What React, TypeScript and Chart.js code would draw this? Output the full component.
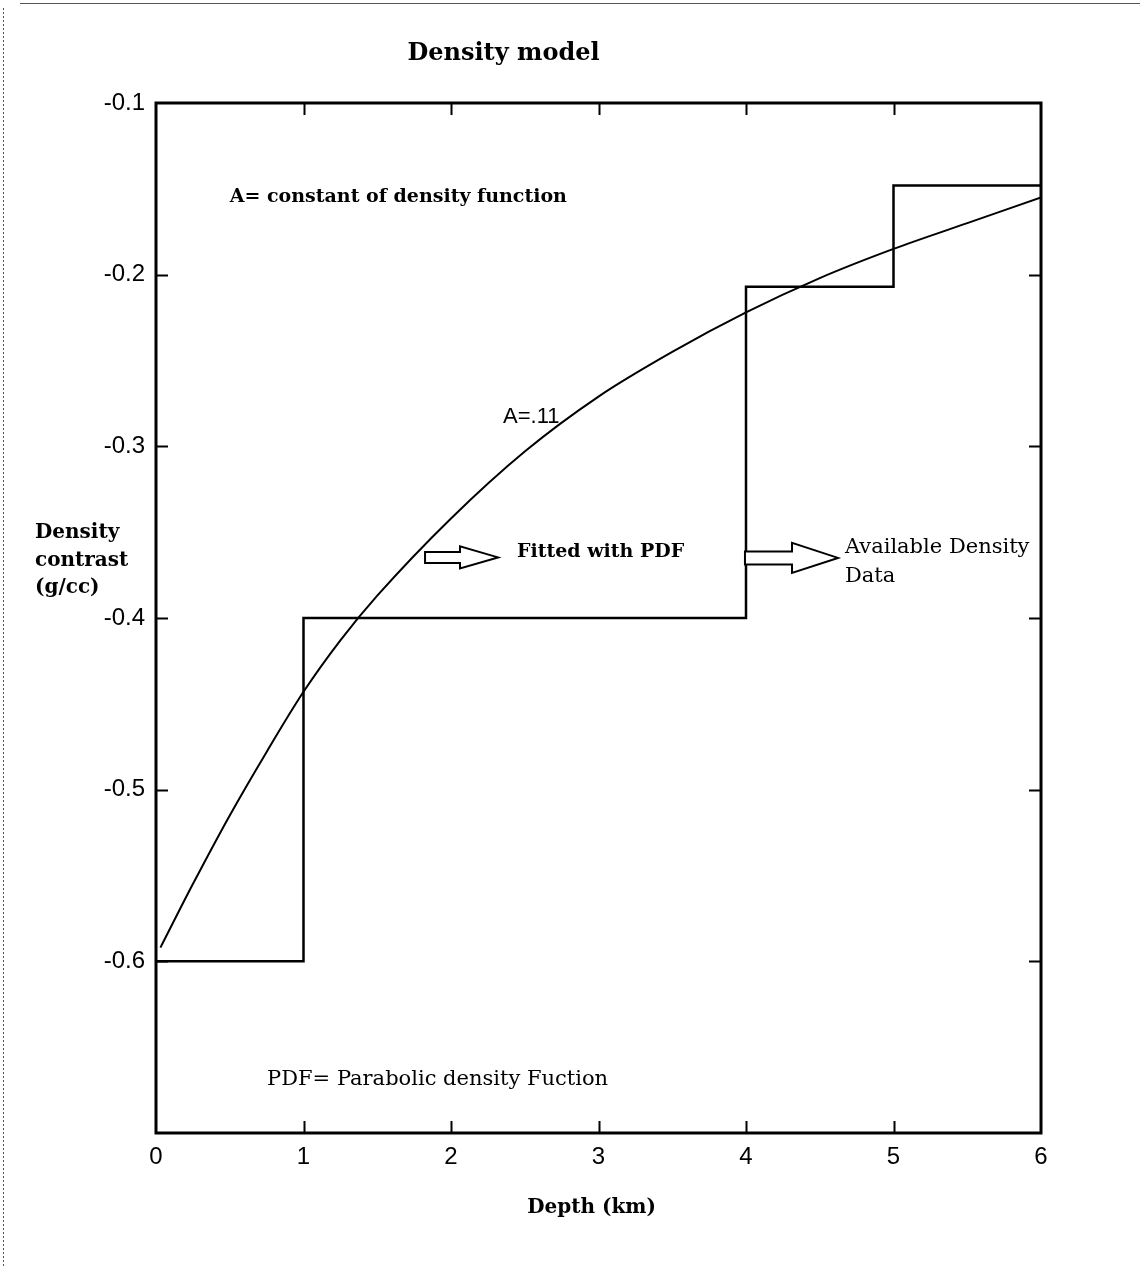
import React, { useEffect, useRef } from "react";
import { Chart, registerables } from "chart.js";

Chart.register(...registerables);

// ---- data ----
const stepDepths = [0, 1, 1, 4, 4, 5, 5, 6];
const stepValues = [-0.6, -0.6, -0.4, -0.4, -0.207, -0.207, -0.148, -0.148];

const curveDepths = [0.03, 0.25, 0.5, 0.75, 1.0, 1.25, 1.5, 2.0, 2.5, 3.0, 3.5, 4.0, 4.5, 5.0, 5.5, 6.0];
const curveValues = [-0.592, -0.555, -0.515, -0.478, -0.443, -0.413, -0.387, -0.342, -0.303, -0.271, -0.245, -0.222, -0.202, -0.185, -0.17, -0.155];

const xTickValues = [0, 1, 2, 3, 4, 5, 6];
const yTickValues = [-0.1, -0.2, -0.3, -0.4, -0.5, -0.6];
const xMin = 0;
const xMax = 6;
const yMin = -0.7;
const yMax = -0.1;

const titleText = "Density model";
const xTitle = "Depth (km)";
const yTitleLines = ["Density", "contrast", "(g/cc)"];

const SERIF = "'DejaVu Serif', 'Liberation Serif', serif";
const SANS = "'Liberation Sans', Arial, sans-serif";

// in-plot notes, anchored in data coordinates (depth, value) = left / baseline
const notes = [
  { text: "A= constant of density function", x: 0.5, y: -0.1577, font: `bold 19px ${SERIF}` },
  { text: "A=.11", x: 2.353, y: -0.2864, font: `22px ${SANS}` },
  { text: "Fitted with PDF", x: 2.447, y: -0.3644, font: `bold 19px ${SERIF}` },
  { text: "Available Density", x: 4.671, y: -0.3621, font: `21px ${SERIF}` },
  { text: "Data", x: 4.671, y: -0.379, font: `21px ${SERIF}` },
  { text: "PDF= Parabolic density Fuction", x: 0.753, y: -0.6719, font: `21px ${SERIF}` },
];

// hollow block arrows: start depth, head-start depth, tip depth, centre value
const arrows = [
  { x0: 1.824, xh: 2.061, x1: 2.319, y: -0.3647, shaft: 5.5, head: 11 },
  { x0: 3.993, xh: 4.312, x1: 4.624, y: -0.365, shaft: 6.5, head: 15 },
];

const decorPlugin = {
  id: "decor",
  beforeDraw(chart: any) {
    const ctx = chart.ctx;
    ctx.save();
    ctx.fillStyle = "#ffffff";
    ctx.fillRect(0, 0, chart.width, chart.height);
    ctx.restore();
  },
  afterDatasetsDraw(chart: any) {
    const ctx = chart.ctx;
    const { left, right, top, bottom } = chart.chartArea;
    const xs = chart.scales.x;
    const ys = chart.scales.y;
    ctx.save();

    // frame
    ctx.strokeStyle = "#000";
    ctx.lineWidth = 3;
    ctx.strokeRect(left, top, right - left, bottom - top);

    // inward ticks
    ctx.lineWidth = 2;
    const tl = 12;
    xTickValues.forEach((v) => {
      if (v === xMin || v === xMax) return;
      const px = Math.round(xs.getPixelForValue(v)) + 0.5;
      ctx.beginPath();
      ctx.moveTo(px, bottom);
      ctx.lineTo(px, bottom - tl);
      ctx.moveTo(px, top);
      ctx.lineTo(px, top + tl);
      ctx.stroke();
    });
    yTickValues.forEach((v) => {
      if (v === yMax || v === yMin) return;
      const py = Math.round(ys.getPixelForValue(v)) + 0.5;
      ctx.beginPath();
      ctx.moveTo(left, py);
      ctx.lineTo(left + tl, py);
      ctx.moveTo(right, py);
      ctx.lineTo(right - tl, py);
      ctx.stroke();
    });

    // notes
    ctx.fillStyle = "#000";
    ctx.textBaseline = "alphabetic";
    ctx.textAlign = "left";
    notes.forEach((n) => {
      ctx.font = n.font;
      ctx.fillText(n.text, xs.getPixelForValue(n.x), ys.getPixelForValue(n.y));
    });

    // arrows
    ctx.lineWidth = 2;
    ctx.fillStyle = "#fff";
    arrows.forEach((a) => {
      const x0 = xs.getPixelForValue(a.x0);
      const xh = xs.getPixelForValue(a.xh);
      const x1 = xs.getPixelForValue(a.x1);
      const cy = ys.getPixelForValue(a.y);
      ctx.beginPath();
      ctx.moveTo(x0, cy - a.shaft);
      ctx.lineTo(xh, cy - a.shaft);
      ctx.lineTo(xh, cy - a.head);
      ctx.lineTo(x1, cy);
      ctx.lineTo(xh, cy + a.head);
      ctx.lineTo(xh, cy + a.shaft);
      ctx.lineTo(x0, cy + a.shaft);
      ctx.closePath();
      ctx.fill();
      ctx.stroke();
    });

    // title
    ctx.fillStyle = "#000";
    ctx.font = `bold 24px ${SERIF}`;
    ctx.textAlign = "center";
    ctx.fillText(titleText, (left + right) / 2 - 95, 60);

    // x title
    ctx.font = `bold 20px ${SERIF}`;
    ctx.fillText(xTitle, (left + right) / 2 - 7, 1213);

    // y title
    ctx.textAlign = "left";
    const bl = [538, 566, 593];
    yTitleLines.forEach((t, i) => ctx.fillText(t, 35, bl[i]));

    // page border
    ctx.strokeStyle = "#555";
    ctx.lineWidth = 1;
    ctx.beginPath();
    ctx.moveTo(20, 3.5);
    ctx.lineTo(chart.width, 3.5);
    ctx.stroke();
    ctx.setLineDash([2, 2]);
    ctx.beginPath();
    ctx.moveTo(3.5, 8);
    ctx.lineTo(3.5, chart.height);
    ctx.stroke();
    ctx.restore();
  },
};

export default function App() {
  const ref = useRef<HTMLCanvasElement | null>(null);

  useEffect(() => {
    if (!ref.current) return;
    const chart = new Chart(ref.current, {
      type: "line",
      data: {
        datasets: [
          {
            label: "Available Density Data",
            data: stepDepths.map((x, i) => ({ x, y: stepValues[i] })),
            borderColor: "#000",
            borderWidth: 2.5,
            pointRadius: 0,
            fill: false,
            tension: 0,
          },
          {
            label: "Fitted with PDF",
            data: curveDepths.map((x, i) => ({ x, y: curveValues[i] })),
            borderColor: "#000",
            borderWidth: 2,
            pointRadius: 0,
            fill: false,
            cubicInterpolationMode: "monotone",
          },
        ],
      },
      options: {
        animation: false,
        responsive: false,
        devicePixelRatio: 1,
        layout: { padding: { left: 0, top: 103, right: 99, bottom: 0 } },
        plugins: {
          legend: { display: false },
          tooltip: { enabled: false },
          title: { display: false },
        },
        scales: {
          x: {
            type: "linear",
            position: "bottom",
            min: xMin,
            max: xMax,
            grid: { display: false, drawTicks: false, tickLength: 0 },
            border: { display: false },
            afterBuildTicks: (s: any) => {
              s.ticks = xTickValues.map((v) => ({ value: v }));
            },
            afterFit: (s: any) => {
              s.height = 135;
            },
            ticks: {
              color: "#000",
              padding: 10,
              maxRotation: 0,
              font: { family: "'Liberation Sans', Arial, sans-serif", size: 24 },
              callback: (v: any) => String(v),
            },
          },
          y: {
            type: "linear",
            position: "left",
            min: yMin,
            max: yMax,
            grid: { display: false, drawTicks: false, tickLength: 0 },
            border: { display: false },
            afterBuildTicks: (s: any) => {
              s.ticks = yTickValues.map((v) => ({ value: v }));
            },
            afterFit: (s: any) => {
              s.width = 156;
            },
            ticks: {
              color: "#000",
              padding: 11,
              font: { family: "'Liberation Sans', Arial, sans-serif", size: 24 },
              callback: (v: any) => Number(v).toFixed(1),
            },
          },
        },
      },
      plugins: [decorPlugin],
    } as any);
    return () => chart.destroy();
  }, []);

  return (
    <div style={{ position: "fixed", left: 0, top: 0, width: 1140, height: 1268, background: "#fff" }}>
      <canvas ref={ref} width={1140} height={1268} style={{ width: 1140, height: 1268, display: "block" }} />
    </div>
  );
}
